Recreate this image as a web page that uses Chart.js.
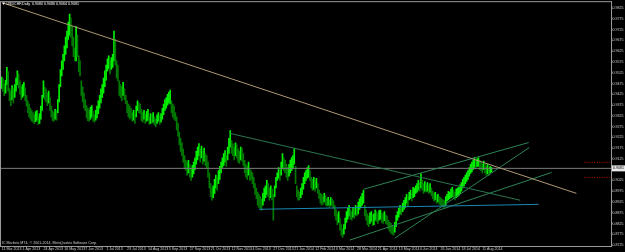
<!DOCTYPE html>
<html>
<head>
<meta charset="utf-8">
<script src="https://cdn.jsdelivr.net/npm/chart.js@4.4.0/dist/chart.umd.min.js"></script>
<style>
html, body { margin: 0; padding: 0; background: #000; }
</style>
</head>
<body>
<canvas id="priceChart" width="625" height="252"></canvas>
<script>
// Daily bars, prices kept in pips (x 10000)
const dateLabels = ['11 Mar 2013', '1 Apr 2013', '24 Apr 2013', '16 May 2013', '7 Jun 2013', '1 Jul 2013',
    '23 Jul 2013', '14 Aug 2013', '5 Sep 2013', '27 Sep 2013', '21 Oct 2013', '12 Nov 2013', '4 Dec 2013',
    '27 Dec 2013', '21 Jan 2014', '12 Feb 2014', '6 Mar 2014', '28 Mar 2014', '21 Apr 2014', '13 May 2014',
    '4 Jun 2014', '26 Jun 2014', '18 Jul 2014', '11 Aug 2014'];

const priceTicks = [8725, 8775, 8825, 8875, 8925, 8975, 9025, 9075, 9125, 9175, 9225, 9275,
    9325, 9375, 9425, 9475, 9525, 9575, 9625, 9675, 9725, 9775, 9825];

const highs = [
    9505, 9498, 9472, 9490, 9550, 9530, 9452, 9440, 9465, 9450,
    9470, 9500, 9534, 9520, 9487, 9460, 9470, 9480, 9455, 9420,
    9395, 9380, 9360, 9349, 9340, 9330, 9345, 9349, 9320, 9335,
    9370, 9420, 9487, 9460, 9450, 9430, 9440, 9410, 9370, 9349,
    9340, 9355, 9349, 9400, 9470, 9540, 9580, 9610, 9650, 9690,
    9718, 9760, 9797, 9780, 9741, 9690, 9640, 9741, 9700, 9603,
    9580, 9487, 9460, 9430, 9400, 9372, 9360, 9350, 9365, 9372,
    9345, 9330, 9350, 9370, 9395, 9420, 9450, 9470, 9500, 9534,
    9560, 9590, 9603, 9580, 9595, 9610, 9718, 9680, 9580, 9560,
    9487, 9470, 9460, 9480, 9450, 9420, 9395, 9380, 9370, 9360,
    9340, 9350, 9330, 9370, 9395, 9385, 9380, 9355, 9340, 9350,
    9330, 9345, 9355, 9320, 9335, 9330, 9340, 9320, 9310, 9330,
    9340, 9325, 9335, 9360, 9380, 9400, 9410, 9425, 9435, 9445,
    9395, 9380, 9370, 9340, 9320, 9290, 9250, 9220, 9200, 9170,
    9140, 9120, 9110, 9118, 9100, 9080, 9095, 9110, 9130, 9160,
    9180, 9196, 9170, 9185, 9160, 9175, 9150, 9140, 9110, 9060,
    9010, 8990, 9000, 9030, 9050, 9040, 9071, 9090, 9110, 9130,
    9150, 9164, 9140, 9180, 9220, 9256, 9210, 9195, 9180, 9200,
    9190, 9170, 9160, 9180, 9175, 9150, 9118, 9100, 9090, 9110,
    9080, 9070, 9060, 9040, 9010, 8990, 8970, 8960, 8950, 8940,
    8965, 8990, 9000, 9025, 9010, 8990, 9000, 8985, 8960, 9000,
    9040, 9060, 9085, 9070, 9110, 9150, 9130, 9120, 9100, 9085,
    9100, 9120, 9131, 9140, 9173, 9090, 9000, 8979, 8970, 8990,
    9010, 9040, 9060, 9071, 9085, 9094, 9070, 9040, 9030, 9039,
    9020, 9035, 9010, 8980, 8965, 8960, 8950, 8965, 8955, 8940,
    8947, 8935, 8945, 8940, 8930, 8910, 8890, 8870, 8880, 8850,
    8820, 8800, 8820, 8850, 8880, 8895, 8910, 8890, 8880, 8900,
    8895, 8910, 8905, 8925, 8940, 8950, 8965, 8979, 8910, 8887,
    8870, 8860, 8875, 8880, 8865, 8870, 8887, 8880, 8870, 8885,
    8887, 8875, 8870, 8880, 8865, 8860, 8840, 8830, 8826, 8815,
    8810, 8830, 8863, 8880, 8895, 8910, 8905, 8920, 8933, 8945,
    8960, 8950, 8970, 8980, 8965, 8993, 8990, 9000, 9010, 9025,
    9015, 9057, 9025, 9010, 9020, 9005, 9015, 9000, 9010, 8990,
    8975, 8965, 8970, 8955, 8960, 8950, 8945, 8940, 8935, 8930,
    8950, 8960, 8975, 8970, 8985, 8993, 8980, 8970, 8985, 8990,
    8993, 9005, 9015, 9030, 9040, 9050, 9060, 9071, 9085, 9100,
    9110, 9118, 9131, 9120, 9125, 9131, 9118, 9110, 9100, 9115,
    9105, 9090, 9100, 9085, 9090, 9086
];

const lows = [
    9452, 9440, 9418, 9430, 9470, 9440, 9395, 9372, 9400, 9385,
    9410, 9440, 9470, 9455, 9425, 9400, 9410, 9420, 9395, 9370,
    9340, 9320, 9310, 9300, 9295, 9288, 9298, 9305, 9285, 9290,
    9310, 9350, 9410, 9400, 9390, 9372, 9385, 9350, 9320, 9302,
    9300, 9310, 9305, 9340, 9390, 9460, 9510, 9540, 9580, 9610,
    9640, 9680, 9700, 9690, 9650, 9600, 9580, 9580, 9600, 9530,
    9510, 9420, 9390, 9360, 9349, 9315, 9302, 9300, 9310, 9320,
    9300, 9295, 9305, 9315, 9335, 9360, 9385, 9410, 9430, 9460,
    9490, 9534, 9545, 9520, 9540, 9550, 9580, 9560, 9500, 9487,
    9420, 9410, 9395, 9420, 9400, 9380, 9340, 9320, 9310, 9315,
    9300, 9305, 9290, 9320, 9349, 9340, 9335, 9302, 9295, 9310,
    9290, 9300, 9305, 9285, 9290, 9290, 9295, 9282, 9275, 9290,
    9300, 9285, 9295, 9310, 9330, 9350, 9360, 9375, 9385, 9380,
    9340, 9320, 9310, 9302, 9260, 9230, 9190, 9160, 9140, 9110,
    9080, 9071, 9050, 9060, 9040, 9025, 9040, 9055, 9075, 9100,
    9120, 9140, 9110, 9130, 9100, 9115, 9094, 9080, 9040, 8990,
    8950, 8933, 8945, 8965, 8990, 8980, 9010, 9030, 9060, 9085,
    9095, 9110, 9090, 9120, 9150, 9180, 9150, 9140, 9120, 9140,
    9130, 9110, 9104, 9120, 9115, 9095, 9060, 9040, 9030, 9050,
    9025, 9030, 9010, 8990, 8960, 8940, 8910, 8900, 8895, 8887,
    8910, 8930, 8945, 8960, 8950, 8933, 8945, 8935, 8840, 8950,
    8990, 9025, 9035, 9025, 9050, 9080, 9070, 9060, 9040, 9025,
    9045, 9060, 9070, 9080, 9100, 9010, 8950, 8933, 8935, 8945,
    8960, 8985, 9010, 9025, 9035, 9040, 9025, 8990, 8979, 8985,
    8975, 8990, 8965, 8940, 8920, 8910, 8915, 8925, 8910, 8905,
    8910, 8900, 8910, 8905, 8895, 8860, 8840, 8820, 8830, 8794,
    8770, 8760, 8775, 8800, 8830, 8845, 8860, 8845, 8840, 8855,
    8850, 8865, 8860, 8870, 8890, 8900, 8910, 8920, 8860, 8840,
    8820, 8810, 8825, 8835, 8815, 8820, 8840, 8835, 8826, 8840,
    8845, 8830, 8826, 8838, 8826, 8820, 8800, 8790, 8780, 8775,
    8771, 8785, 8810, 8840, 8855, 8870, 8865, 8880, 8890, 8900,
    8920, 8905, 8935, 8940, 8930, 8945, 8950, 8965, 8970, 8980,
    8975, 8990, 8980, 8965, 8975, 8970, 8975, 8965, 8970, 8955,
    8940, 8930, 8935, 8920, 8925, 8915, 8910, 8905, 8902, 8900,
    8910, 8930, 8935, 8940, 8945, 8950, 8940, 8935, 8945, 8950,
    8955, 8965, 8975, 8990, 9000, 9010, 9020, 9030, 9045, 9057,
    9065, 9075, 9085, 9080, 9090, 9090, 9075, 9070, 9060, 9075,
    9060, 9050, 9055, 9048, 9060, 9064
];

const lastPrice = 9081;
const markerLevels = [9109, 9039];

// drawn objects: [bar index, price, bar index, price]
const trendLines = [
    [1.5, 9848, 440, 8965],
    [175, 9243, 397, 8933],
    [197, 8891, 411, 8914],
    [277, 8984, 403.5, 9201],
    [266.5, 8748, 421, 9062],
    [301, 8757, 404, 9178]
];

const headerText = 'USDCHF,Daily  0.9080 0.9086 0.9064 0.9081';
const footerText = 'IC Markets MT4, \u00a9 2001-2014, MetaQuotes Software Corp.';

const SLOTS = 467;
const LABEL_STEP = 16;
const trendColors = ['#ad9a76', '#2c7650', '#1a88b0', '#2d8455', '#2d8455', '#2d8455'];
const FONT = { family: 'Liberation Sans', size: 3.6 };

// bar colour: bright when the bar moved up
const barColors = highs.map((h, i) => {
    if (i === 0) return '#00ff00';
    return (h + lows[i]) >= (highs[i - 1] + lows[i - 1]) ? '#00f000' : '#007a00';
});

const datasets = [];

trendLines.forEach((t, k) => {
    datasets.push({
        type: 'line',
        data: [{ x: t[0], y: t[1] }, { x: t[2], y: t[3] }],
        borderColor: trendColors[k],
        borderWidth: 1,
        pointRadius: 0,
        order: 0
    });
});

datasets.push({
    type: 'line',
    data: [{ x: -0.5, y: lastPrice }, { x: SLOTS - 0.5, y: lastPrice }],
    borderColor: '#7c7c7c',
    borderWidth: 1,
    pointRadius: 0,
    order: 0
});

markerLevels.forEach(level => {
    datasets.push({
        type: 'line',
        data: [{ x: 446, y: level }, { x: SLOTS - 0.5, y: level }],
        borderColor: '#c00000',
        borderWidth: 1,
        borderDash: [1, 1.5],
        pointRadius: 0,
        order: 0
    });
});

datasets.push({
    type: 'bar',
    data: highs.map((h, i) => ({ x: i, y: [lows[i], h] })),
    backgroundColor: barColors,
    barThickness: 1,
    order: 1
});

// frame, header, footer and price box
const terminalChrome = {
    id: 'terminalChrome',
    beforeDraw(chart) {
        const { ctx, width, height } = chart;
        ctx.save();
        ctx.fillStyle = '#000';
        ctx.fillRect(0, 0, width, height);
        ctx.restore();
    },
    afterDraw(chart) {
        const { ctx, chartArea: a } = chart;
        const y = chart.scales.y;
        ctx.save();
        ctx.strokeStyle = '#9a9a9a';
        ctx.lineWidth = 1;
        ctx.strokeRect(a.left - 0.5, a.top - 0.5, a.right - a.left + 1, a.bottom - a.top + 1);

        ctx.font = '3.6px "Liberation Sans"';
        ctx.textBaseline = 'middle';
        ctx.fillStyle = '#ffffff';
        ctx.beginPath();
        ctx.moveTo(2, 2.5);
        ctx.lineTo(5, 2.5);
        ctx.lineTo(3.5, 5);
        ctx.closePath();
        ctx.fill();
        ctx.fillText(headerText, 6.5, 4);

        ctx.fillStyle = '#d0d0d0';
        ctx.fillText(footerText, 2, a.bottom - 3);

        const py = y.getPixelForValue(lastPrice);
        ctx.fillStyle = '#e8e8e8';
        ctx.fillRect(a.right + 1, py - 3, 14, 6);
        ctx.fillStyle = '#000';
        ctx.fillText((lastPrice / 10000).toFixed(4), a.right + 2, py);
        ctx.restore();
    }
};

new Chart(document.getElementById('priceChart'), {
    type: 'bar',
    data: { datasets: datasets },
    plugins: [terminalChrome],
    options: {
        responsive: false,
        animation: false,
        events: [],
        layout: { padding: { left: 1, top: 1, right: 0, bottom: 0 } },
        plugins: {
            legend: { display: false },
            tooltip: { enabled: false }
        },
        scales: {
            x: {
                type: 'linear',
                min: -0.5,
                max: SLOTS - 0.5,
                offset: false,
                afterBuildTicks: s => { s.ticks = dateLabels.map((_, k) => ({ value: k * LABEL_STEP })); },
                afterFit: s => { s.height = 6; },
                ticks: {
                    autoSkip: false,
                    maxRotation: 0,
                    align: 'start',
                    padding: 0,
                    color: '#cfcfcf',
                    font: FONT,
                    callback: (v, i) => dateLabels[i]
                },
                grid: { drawOnChartArea: false, offset: false, tickLength: 1, color: '#9a9a9a' },
                border: { color: '#9a9a9a' }
            },
            y: {
                position: 'right',
                min: 8720.6,
                max: 9852.7,
                afterBuildTicks: s => { s.ticks = priceTicks.map(v => ({ value: v })); },
                afterFit: s => { s.width = 14; },
                ticks: {
                    padding: 0,
                    color: '#cfcfcf',
                    font: FONT,
                    callback: v => (v / 10000).toFixed(4)
                },
                grid: { drawOnChartArea: false, tickLength: 1.5, color: '#9a9a9a' },
                border: { color: '#9a9a9a' }
            }
        }
    }
});
</script>
</body>
</html>
